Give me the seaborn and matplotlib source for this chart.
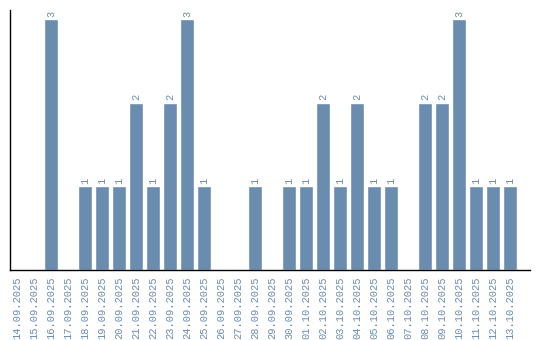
import matplotlib
matplotlib.use("Agg")
import matplotlib.pyplot as plt
import seaborn as sns
import pandas as pd

dates = ["14.09.2025","15.09.2025","16.09.2025","17.09.2025","18.09.2025","19.09.2025",
         "20.09.2025","21.09.2025","22.09.2025","23.09.2025","24.09.2025","25.09.2025",
         "26.09.2025","27.09.2025","28.09.2025","29.09.2025","30.09.2025","01.10.2025",
         "02.10.2025","03.10.2025","04.10.2025","05.10.2025","06.10.2025","07.10.2025",
         "08.10.2025","09.10.2025","10.10.2025","11.10.2025","12.10.2025","13.10.2025"]
counts = [0,0,3,0,1,1,1,2,1,2,3,1,0,0,1,0,1,1,2,1,2,1,1,0,2,2,3,1,1,1]

color = "#6a8caf"
sns.set_style("white")
plt.rcParams['font.family'] = ['Liberation Mono', 'DejaVu Sans Mono']

df = pd.DataFrame({"date": dates, "count": counts})
fig = plt.figure(figsize=(5.4, 3.4), dpi=100)
ax = fig.add_axes([10/540, 70/340, 520/540, 260/340])
sns.barplot(data=df, x="date", y="count", color=color, saturation=1, width=0.82, ax=ax)
ax.set_xlim(-0.41, 30.18)
ax.set_ylim(0, 3.11)
for i, v in enumerate(counts):
    if v > 0:
        ax.text(i, v + 0.03, str(v), rotation=90, ha="center", va="bottom",
                fontsize=7.5, color=color)
ax.set_yticks([])
ax.set_xlabel("")
ax.set_ylabel("")
ax.tick_params(axis="x", rotation=90, labelsize=7.5, labelcolor=color, length=0, pad=5)
for s in ["top", "right"]:
    ax.spines[s].set_visible(False)
for s in ["left", "bottom"]:
    ax.spines[s].set_color("black")
    ax.spines[s].set_linewidth(1)
fig.savefig("out.png", dpi=100)
